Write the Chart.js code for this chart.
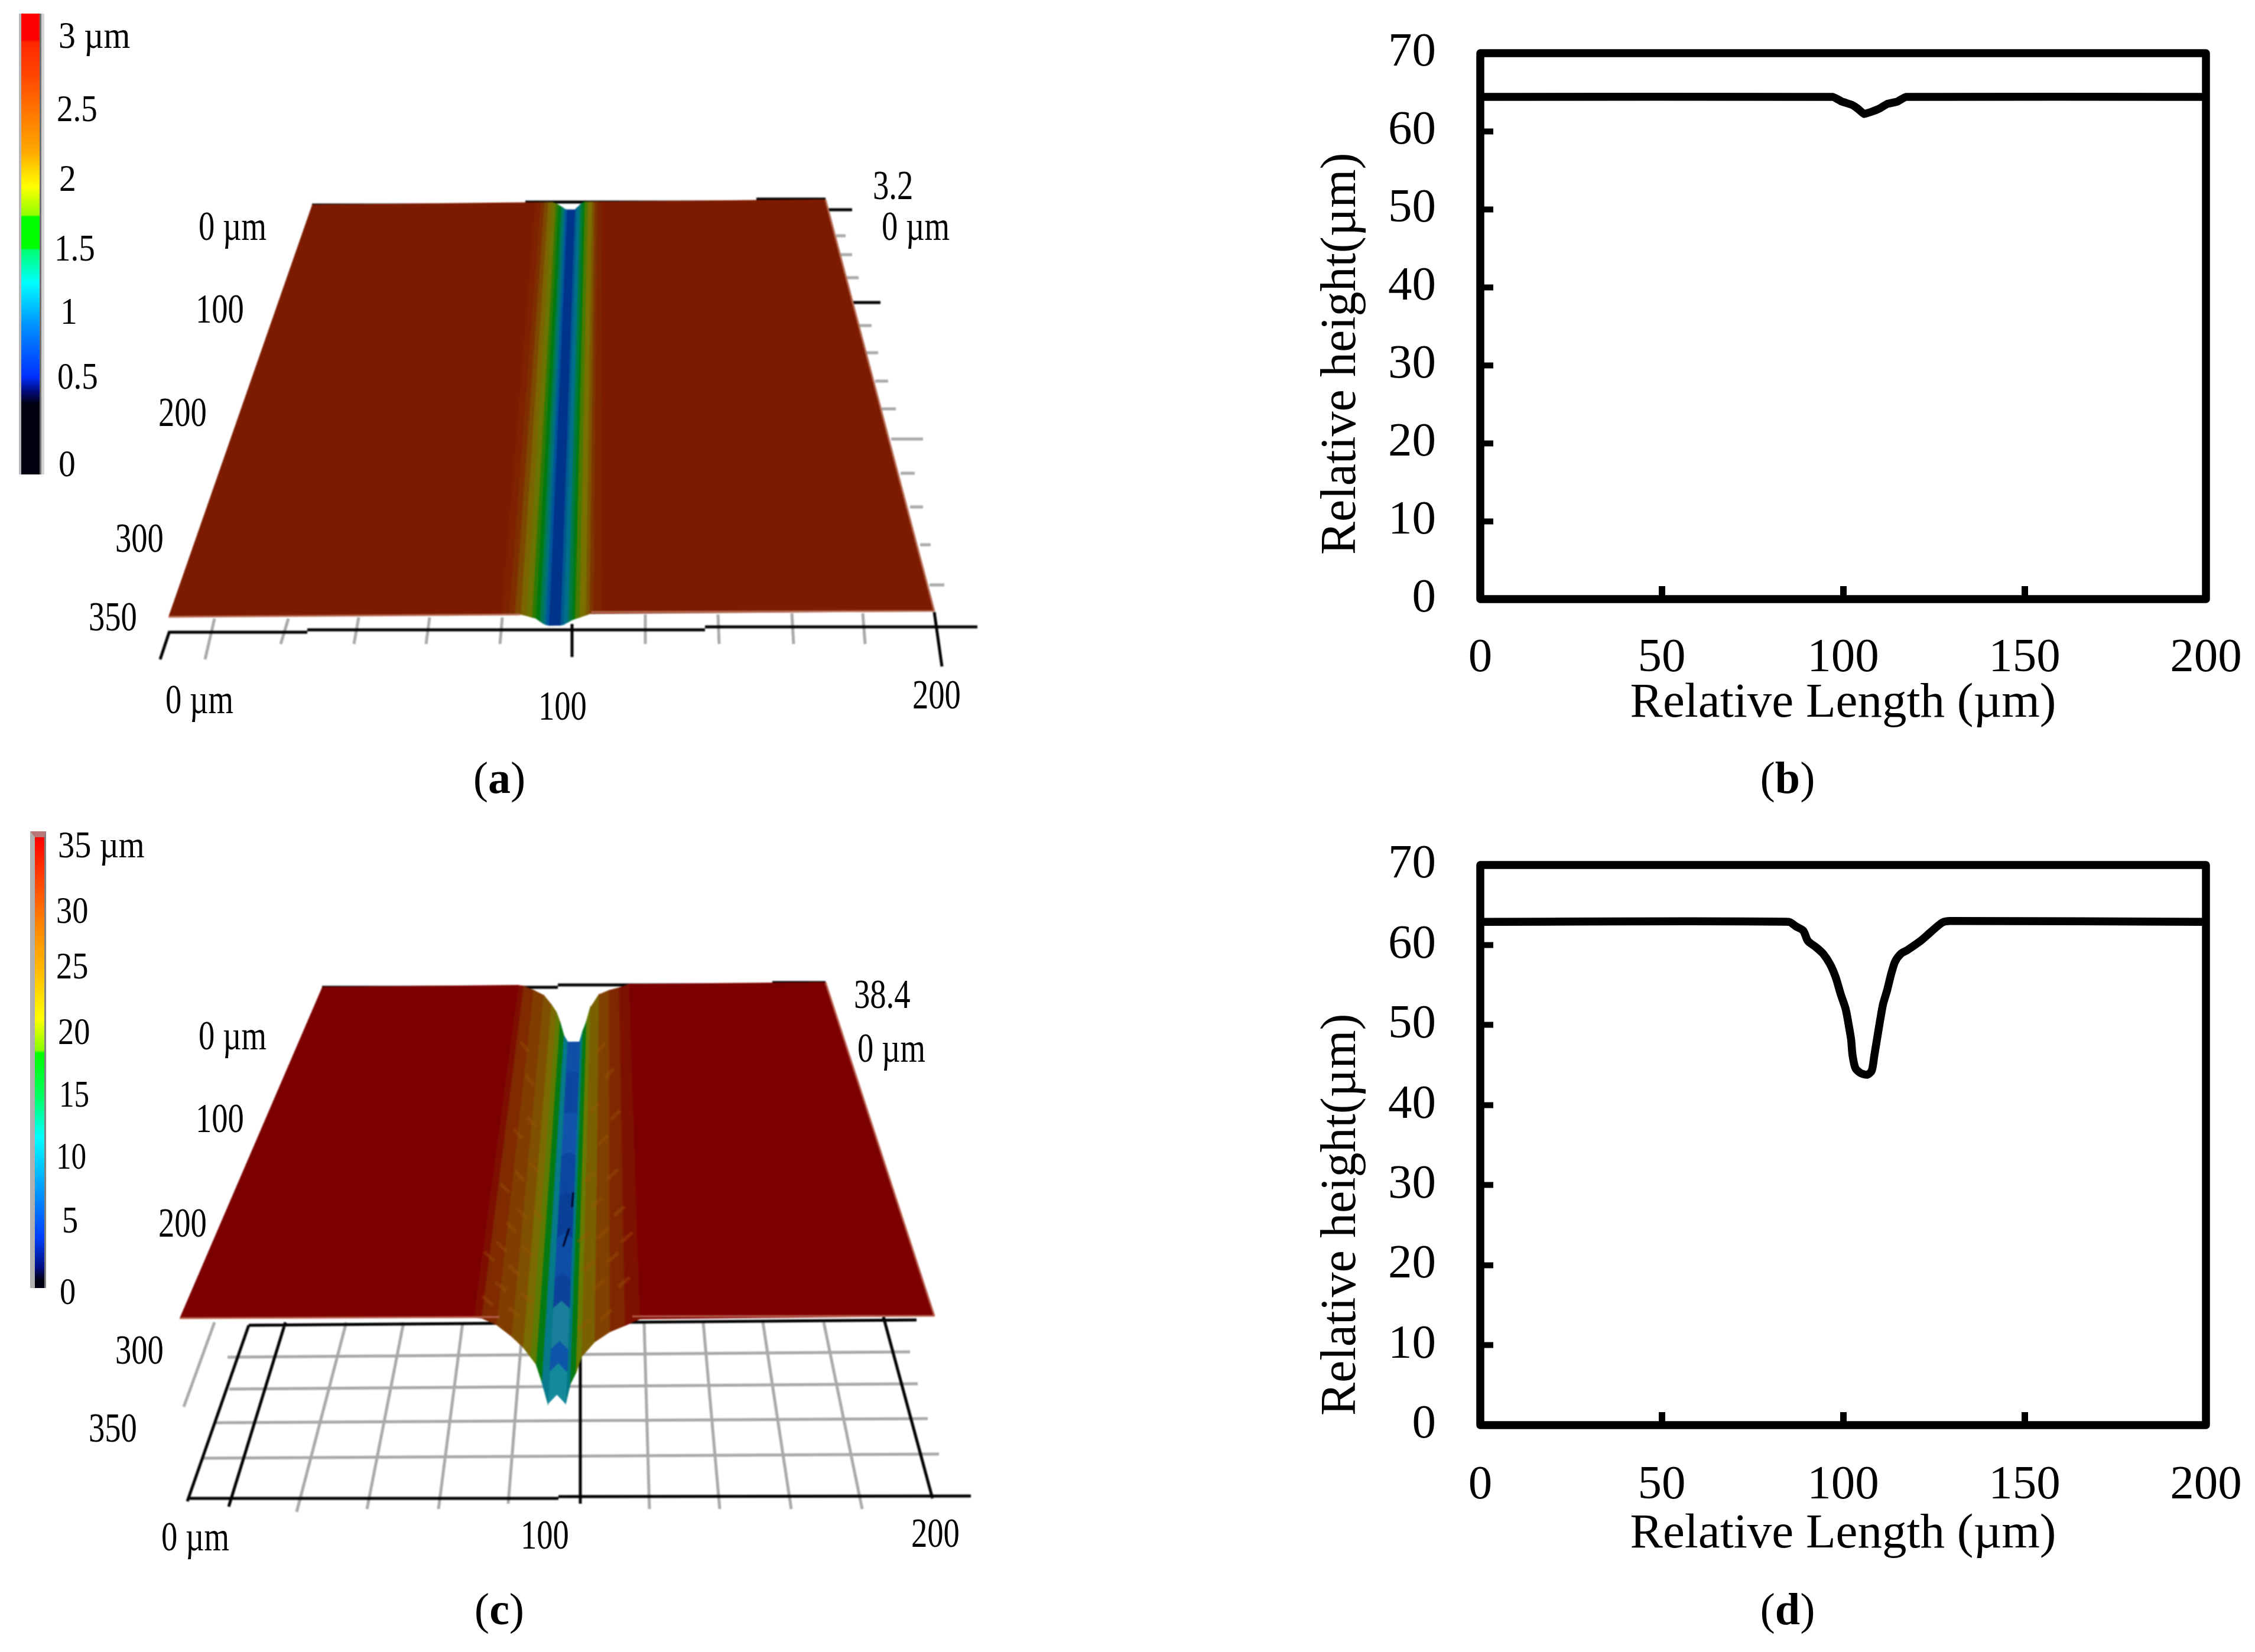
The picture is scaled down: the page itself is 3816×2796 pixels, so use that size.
<!DOCTYPE html>
<html>
<head>
<meta charset="utf-8">
<style>
  html, body { margin: 0; padding: 0; background: #fff; }
  body { position: relative; width: 3816px; height: 2796px; overflow: hidden; }
  canvas { position: absolute; display: block; }
  .lbl { position: absolute; font-family: "Liberation Serif", serif; color: #000; line-height: 1; white-space: pre; transform-origin: 0 0; }
</style>
</head>
<body>
<canvas id="panelA"></canvas>
<canvas id="panelC"></canvas>
<canvas id="barA"></canvas>
<canvas id="barC"></canvas>
<canvas id="chartB"></canvas>
<canvas id="chartD"></canvas>
<script src="https://cdn.jsdelivr.net/npm/chart.js"></script>
<script>
// profile (b)
const bLength = [0, 97.2, 99.6, 102.3, 104, 105.8, 107.9, 110, 112.2, 115, 117.3, 200];
const bHeight = [64.4, 64.4, 63.8, 63.4, 62.9, 62.2, 62.5, 62.9, 63.5, 63.8, 64.4, 64.4];

// profile (d)
const dLength = [0, 85, 87.1, 89, 90.3, 92.6, 94.5, 96.4, 98, 99.3, 100.7, 101.5, 102.2, 102.6, 103.4, 104.8, 106.7, 107.9, 108.6, 109.4, 110.2, 111, 112.1, 113.2, 114.3, 115.9, 117.8, 121.3, 124.1, 127.3, 129.5, 200];
const dHeight = [62.9, 62.9, 62.3, 61.8, 60.5, 59.7, 58.9, 57.6, 55.9, 53.9, 52, 50.1, 48.2, 46.2, 44.6, 44, 43.8, 44.3, 46.2, 48.4, 50.6, 52.6, 54.3, 56.3, 57.9, 58.9, 59.4, 60.5, 61.6, 62.8, 63, 62.9];

const profileXTicks = [0, 50, 100, 150, 200];
const profileYTicks = [0, 10, 20, 30, 40, 50, 60, 70];

// surface (a): band edges across the groove (um), depth at the far and near end (um), colour of the band after each edge
const aEdges = [0, 87, 89, 90.5, 92, 93.5, 95, 96, 97, 97.8, 98.6, 99.4, 102.4, 103.2, 104.4, 105.4, 106.2, 107.4, 109, 110, 111, 113, 200];
const aDepthFar = [0, 0, 0, 0, 0, 0, 0.5, 1.2, 1.8, 2.4, 3, 3.2, 3.2, 2.4, 1.2, 0.3, 0, 0, 0, 0, 0, 0, 0];
const aDepthNear = [0, 0, 0, 0, 0, 0.4, 0.9, 1.2, 2, 2.6, 3, 3.2, 3.2, 3, 2.3, 1.7, 1.4, 1, 0.4, 0, 0, 0, 0];
const aColors = ['#7d1b00', '#7e2200', '#7f2e00', '#7d4800', '#7b6500', '#6b7400', '#2b7a05', '#007a10', '#007a50', '#00707f', '#00559a', '#00338a', '#005a90', '#00708a', '#007a40', '#007a10', '#4a7a00', '#7a7000', '#7c5500', '#7e3500', '#7d2500', '#7d1b00'];

// surface (c)
const cEdges = [0, 78, 80, 84, 88, 91, 93, 94.5, 96, 97.6, 100, 102.3, 103.5, 105, 106.5, 110, 114, 118, 122, 200];
const cDepthFar = [0, 0, 0.5, 3, 6, 11.5, 16, 22, 30, 34, 34, 34, 28, 22, 14, 6, 3.5, 2, 0, 0];
const cDepthNear = [0, 0, 0.3, 3, 7.7, 12, 16, 19, 26, 34.8, 31, 34.8, 27, 22.5, 16, 10, 6, 3.5, 0.8, 0];
const cColors = ['#7d0000', '#7e0e00', '#802a00', '#813d00', '#7e5000', '#7a6a00', '#5f7a00', '#057a12', '#067a8a', '#0f50a8', '#0f50a8', '#007880', '#057a12', '#6a7a00', '#7a6000', '#804000', '#7f2800', '#7e1000', '#7d0000'];

// patches along the floor of the groove in (c), from y um to y um
const cChannelFrom = [0, 30, 70, 110, 150, 190, 230, 258, 298, 320];
const cChannelTo = [30, 70, 110, 150, 190, 230, 258, 298, 320, 350];
const cChannelColors = ['#0f4fa5', '#0c469e', '#1254ac', '#0c46a0', '#0a3f98', '#0e4ea6', '#0c4299', '#1a7f9a', '#0d55a8', '#128a9c'];

// ripple marks on the groove walls in (c)
const cRippleLeftX = [83, 86, 88, 84, 90, 86, 82, 88, 85, 90, 83, 87, 91, 84, 88, 81, 92, 80];
const cRippleLeftY = [60, 90, 130, 150, 170, 190, 210, 225, 245, 255, 270, 285, 300, 310, 325, 330, 210, 285];
const cRippleRightX = [111, 114, 109, 116, 112, 108, 115, 110, 117, 112, 108, 115, 111, 118, 107, 113, 119, 106];
const cRippleRightY = [55, 85, 110, 130, 150, 175, 190, 210, 230, 245, 265, 275, 295, 305, 320, 330, 260, 225];

// colour scales
const aBarValues = [3.2, 3.02, 3.0, 2.78, 2.56, 2.24, 2.0, 1.8, 1.79, 1.57, 1.56, 1.33, 1.03, 0.68, 0.58, 0.49, 0];
const aBarColors = ['#ff0000', '#ff0000', '#ff2800', '#ff4400', '#ff7000', '#ffa800', '#ffff00', '#90ff00', '#00ff00', '#00ff00', '#00ff70', '#00ffff', '#0090ff', '#0030ff', '#000c80', '#000010', '#000010'];
const cBarValues = [37.96, 34.4, 30.9, 26.4, 22.7, 20, 19.8, 16.2, 12.7, 7.8, 4.3, 1.65, 0.77, 0];
const cBarColors = ['#ff0000', '#ff4400', '#ff8000', '#ffc000', '#ffff00', '#88ff00', '#00ff00', '#00ff60', '#00ffff', '#0090ff', '#0040ff', '#000c80', '#000018', '#000010'];

// page positions of the tilted planes
const aPlane = { tl: [528, 347], tr: [1397, 338], bl: [285, 1044], br: [1581, 1034], zFar: 4, zNear: 6 };
const cPlane = { tl: [545, 1671], tr: [1397, 1663], bl: [304, 2231], br: [1581, 2227], zFar: 2.85, zNear: 4.2 };

function place(id, left, top, w, h) {
    const c = document.getElementById(id);
    c.width = w;
    c.height = h;
    c.style.left = left + 'px';
    c.style.top = top + 'px';
    c.style.width = w + 'px';
    c.style.height = h + 'px';
    return c;
}

function addLabel(html, x, baseline, size, sx = 1, centered = false) {
    const d = document.createElement('div');
    d.className = 'lbl';
    d.innerHTML = html;
    d.style.left = x + 'px';
    d.style.top = (baseline - 0.8375 * size) + 'px';
    d.style.fontSize = size + 'px';
    d.style.transform = centered ? 'translateX(-50%)' : `scaleX(${sx})`;
    document.body.appendChild(d);
}

// text reading upwards, starting at yStart, with its baseline on xBase
function addVerticalLabel(text, xBase, yStart, size) {
    const d = document.createElement('div');
    d.className = 'lbl';
    d.textContent = text;
    d.style.left = (xBase - 0.8375 * size) + 'px';
    d.style.top = yStart + 'px';
    d.style.fontSize = size + 'px';
    d.style.transform = 'rotate(-90deg)';
    document.body.appendChild(d);
}

function lerp(a, b, t) {
    return a + (b - a) * t;
}

function project(plane, xUm, yUm, depthFar, depthNear) {
    const t = yUm / 350;
    const u = xUm / 200;
    const x = lerp(lerp(plane.tl[0], plane.bl[0], t), lerp(plane.tr[0], plane.br[0], t), u);
    const y = lerp(lerp(plane.tl[1], plane.bl[1], t), lerp(plane.tr[1], plane.br[1], t), u);
    return { x, y: y + lerp(depthFar * plane.zFar, depthNear * plane.zNear, t) };
}

function lineSet(segments, color, width) {
    const data = [];
    segments.forEach(([x1, y1, x2, y2]) => {
        data.push({ x: x1, y: y1 }, { x: x2, y: y2 }, { x: x2, y: null });
    });
    return { data, showLine: true, spanGaps: false, borderColor: color, borderWidth: width, pointRadius: 0, fill: false, clip: false };
}

function polygonSet(points, color) {
    return {
        data: points,
        showLine: true,
        fill: 'shape',
        backgroundColor: color,
        borderColor: color,
        borderWidth: 1.5,
        pointRadius: 0,
        clip: false
    };
}

function surfaceSets(plane, edges, far, near, colors) {
    return colors.map((color, i) => polygonSet([
        project(plane, edges[i], 0, far[i], near[i]),
        project(plane, edges[i + 1], 0, far[i + 1], near[i + 1]),
        project(plane, edges[i + 1], 350, far[i + 1], near[i + 1]),
        project(plane, edges[i], 350, far[i], near[i])
    ], color));
}

// blue floor of the groove in (c), split in patches along its length
function channelSets(plane, first, last) {
    const sets = [];
    cChannelColors.forEach((color, p) => {
        for (let i = first; i < last; i++) {
            sets.push(polygonSet([
                project(plane, cEdges[i], cChannelFrom[p], cDepthFar[i], cDepthNear[i]),
                project(plane, cEdges[i + 1], cChannelFrom[p], cDepthFar[i + 1], cDepthNear[i + 1]),
                project(plane, cEdges[i + 1], cChannelTo[p], cDepthFar[i + 1], cDepthNear[i + 1]),
                project(plane, cEdges[i], cChannelTo[p], cDepthFar[i], cDepthNear[i])
            ], color));
        }
    });
    return sets;
}

function wallDepth(edges, depth, x) {
    for (let i = 0; i < edges.length - 1; i++) {
        if (x <= edges[i + 1]) return lerp(depth[i], depth[i + 1], (x - edges[i]) / (edges[i + 1] - edges[i]));
    }
    return 0;
}

function rippleSet(plane, xs, ys, slope) {
    const segments = [];
    xs.forEach((x, i) => {
        const far = wallDepth(cEdges, cDepthFar, x);
        const near = wallDepth(cEdges, cDepthNear, x);
        const a = project(plane, x - 1.6, ys[i] - slope * 5, far, near);
        const b = project(plane, x + 1.6, ys[i] + slope * 5, far, near);
        segments.push([a.x, a.y, b.x, b.y]);
    });
    return lineSet(segments, 'rgba(160,88,10,0.35)', 6);
}

function makeSurface(id, top, h, under, over) {
    const canvas = place(id, 0, top, 1720, h);
    canvas.style.filter = 'blur(1.3px)';
    // first dataset is painted last, so flip the paint order list
    const datasets = [...under, ...over].reverse();
    new Chart(canvas, {
        type: 'scatter',
        data: { datasets },
        options: {
            responsive: false,
            animation: false,
            devicePixelRatio: 1,
            layout: { padding: 0 },
            plugins: { legend: { display: false }, tooltip: { enabled: false } },
            scales: {
                x: { type: 'linear', display: false, min: 0, max: 1720 },
                y: { type: 'linear', display: false, min: top, max: top + h, reverse: true }
            }
        }
    });
}

function makeColorbar(id, left, top, w, h, values, colors, css) {
    const canvas = place(id, left, top, w, h);
    Object.assign(canvas.style, css);
    const maxValue = values[0];
    new Chart(canvas, {
        type: 'bar',
        data: {
            labels: [''],
            datasets: [{
                data: [[0, maxValue]],
                barPercentage: 1,
                categoryPercentage: 1,
                backgroundColor: (ctx) => {
                    const area = ctx.chart.chartArea;
                    if (!area) return colors[0];
                    const g = ctx.chart.ctx.createLinearGradient(0, area.bottom, 0, area.top);
                    values.forEach((v, i) => g.addColorStop(v / maxValue, colors[i]));
                    return g;
                }
            }]
        },
        options: {
            responsive: false,
            animation: false,
            devicePixelRatio: 1,
            plugins: { legend: { display: false }, tooltip: { enabled: false } },
            scales: {
                x: { display: false },
                y: { display: false, min: 0, max: maxValue }
            }
        }
    });
}

const framePlugin = {
    id: 'frame',
    afterDraw(chart) {
        const { ctx, chartArea: a } = chart;
        ctx.save();
        ctx.strokeStyle = '#000';
        ctx.lineWidth = 13.5;
        ctx.lineJoin = 'round';
        ctx.strokeRect(a.left, a.top, a.right - a.left, a.bottom - a.top);
        ctx.restore();
    }
};

function makeProfile(id, top, plotTop, plotBottom, lengths, heights, tension, tickPad, titlePad) {
    const canvasH = plotBottom - top + 286;
    const canvas = place(id, 2190, top, 1626, canvasH);
    new Chart(canvas, {
        type: 'scatter',
        data: {
            datasets: [{
                data: lengths.map((x, i) => ({ x, y: heights[i] })),
                showLine: true,
                borderColor: '#000',
                borderWidth: 13.5,
                borderJoinStyle: 'round',
                tension,
                pointRadius: 0
            }]
        },
        plugins: [framePlugin],
        options: {
            responsive: false,
            animation: false,
            devicePixelRatio: 1,
            layout: { padding: { left: 0, right: 83, top: plotTop - top, bottom: 0 } },
            plugins: { legend: { display: false }, tooltip: { enabled: false } },
            scales: {
                x: {
                    type: 'linear',
                    min: 0,
                    max: 200,
                    afterBuildTicks: (s) => { s.ticks = profileXTicks.map((value) => ({ value })); },
                    afterFit: (s) => { s.height = 286; s.paddingLeft = 0; s.paddingRight = 0; },
                    border: { display: false },
                    grid: { drawOnChartArea: false, drawTicks: true, tickLength: -22, tickWidth: 11, color: '#000' },
                    ticks: { color: '#000', font: { family: 'Liberation Serif', size: 81 }, padding: tickPad, maxRotation: 0, autoSkip: false },
                    title: { display: true, text: 'Relative Length (µm)', color: '#000', font: { family: 'Liberation Serif', size: 83 }, padding: { top: 0, bottom: titlePad } }
                },
                y: {
                    type: 'linear',
                    min: 0,
                    max: 70,
                    afterBuildTicks: (s) => { s.ticks = profileYTicks.map((value) => ({ value })); },
                    afterFit: (s) => { s.width = 315; s.paddingTop = 0; s.paddingBottom = 0; },
                    border: { display: false },
                    grid: { drawOnChartArea: false, drawTicks: true, tickLength: -22, tickWidth: 10, color: '#000' },
                    ticks: { color: '#000', font: { family: 'Liberation Serif', size: 81 }, padding: 97, autoSkip: false }
                }
            }
        }
    });
}

// panel (a): frame lines around the plane
const aDark = [[528, 347, 889, 347], [889, 342, 1280, 342], [1280, 337, 1397, 337], [287, 1070, 520, 1070], [520, 1066, 1193, 1066], [1193, 1061, 1654, 1061], [287, 1068, 271, 1116], [1581, 1036, 1594, 1128], [968, 1056, 968, 1112], [1397, 355, 1442, 355], [1442, 512, 1490, 512]];
const aGrayTicks = [[363, 1047, 347, 1116], [488, 1047, 475, 1090], [607, 1045, 599, 1090], [727, 1045, 721, 1090], [850, 1045, 846, 1090], [1092, 1040, 1092, 1090], [1215, 1040, 1217, 1090], [1340, 1038, 1343, 1090], [1460, 1038, 1464, 1090], [1415, 399, 1431, 399], [1420, 431, 1442, 431], [1431, 470, 1453, 470], [1453, 551, 1475, 551], [1464, 597, 1486, 597], [1481, 645, 1503, 645], [1492, 692, 1516, 692], [1508, 743, 1562, 743], [1524, 801, 1548, 801], [1540, 858, 1562, 858], [1557, 922, 1575, 922], [1573, 990, 1598, 990]];
const aFringe = [[285, 1044, 880, 1040], [1000, 1036, 1581, 1034], [1397, 338, 1581, 1034]];

// panel (c): floor grid under the plane
const cDark = [[545, 1671, 944, 1671], [944, 1667, 1307, 1667], [1307, 1663, 1397, 1663], [421, 2243, 1551, 2234], [317, 2536, 945, 2536], [945, 2533, 1643, 2532], [421, 2243, 317, 2541], [483, 2238, 387, 2550], [982, 2247, 982, 2545], [1495, 2229, 1578, 2536]];
const cGray = [[385, 2297, 1540, 2288], [388, 2351, 1553, 2342], [363, 2408, 1570, 2401], [342, 2468, 1589, 2461], [363, 2238, 311, 2381], [586, 2238, 502, 2559], [683, 2238, 621, 2554], [783, 2238, 742, 2554], [884, 2247, 860, 2545], [1090, 2238, 1099, 2554], [1190, 2238, 1218, 2554], [1291, 2238, 1339, 2554], [1394, 2238, 1459, 2554]];
const cFringe = [[304, 2231, 845, 2229], [1070, 2228, 1581, 2227], [1397, 1663, 1581, 2227]];
const cSpecks = [[953, 2110, 963, 2079], [970, 2018, 968, 2043]];

makeSurface('panelA', 0, 1380,
    [lineSet(aGrayTicks, '#a8a8a8', 5), lineSet(aDark, '#000000', 5)],
    [...surfaceSets(aPlane, aEdges, aDepthFar, aDepthNear, aColors), lineSet(aFringe, '#b8705a', 3)]);

makeSurface('panelC', 1380, 1416,
    [lineSet(cGray, '#a8a8a8', 5), lineSet(cDark, '#000000', 5)],
    [...surfaceSets(cPlane, cEdges, cDepthFar, cDepthNear, cColors),
     ...channelSets(cPlane, 9, 11),
     rippleSet(cPlane, cRippleLeftX, cRippleLeftY, 1),
     rippleSet(cPlane, cRippleRightX, cRippleRightY, -1),
     lineSet(cSpecks, '#000020', 3),
     lineSet(cFringe, '#b8604f', 3)]);

makeColorbar('barA', 36, 23, 38, 780, aBarValues, aBarColors, {
    borderLeft: '4px solid #b8b8b8', borderRight: '3px solid #707070', boxShadow: '5px 0 0 #d4d4d4', marginLeft: '-4px'
});
makeColorbar('barC', 59, 1417, 27, 773, cBarValues, cBarColors, {
    borderLeft: '8px solid #b0b0b0', borderRight: '3px solid #808080', borderTop: '10px solid #b87878', marginLeft: '-8px', marginTop: '-10px'
});

makeProfile('chartB', 0, 90, 1014, bLength, bHeight, 0.1, 74, 59);
makeProfile('chartD', 1380, 1464, 2412, dLength, dHeight, 0.25, 76, 51);

addVerticalLabel('Relative height(µm)', 2293, 939, 84);
addVerticalLabel('Relative height(µm)', 2293, 2396, 84);

// colour scale labels
[['3 µm', 99, 82, 0.9], ['2.5', 96, 206, 0.86], ['2', 100, 324, 0.9], ['1.5', 92, 442, 0.86], ['1', 102, 549, 0.9], ['0.5', 97, 659, 0.86], ['0', 99, 807, 0.9],
 ['35 µm', 98, 1452, 0.88], ['30', 95, 1563, 0.85], ['25', 95, 1657, 0.85], ['20', 98, 1768, 0.85], ['15', 100, 1874, 0.8], ['10', 95, 1979, 0.8], ['5', 105, 2087, 0.85], ['0', 101, 2208, 0.85]
].forEach(([t, x, y, sx]) => addLabel(t, x, y, 64, sx));

// axis labels of the two surfaces
[['0 µm', 336, 407], ['100', 331, 547], ['200', 268, 722], ['300', 195, 935], ['350', 150, 1068], ['3.2', 1477, 338], ['0 µm', 1492, 407], ['0 µm', 280, 1208], ['100', 911, 1219], ['200', 1544, 1200],
 ['0 µm', 336, 1777], ['100', 331, 1917], ['200', 268, 2094], ['38.4', 1445, 1707], ['0 µm', 1451, 1798], ['300', 195, 2309], ['350', 150, 2441], ['0 µm', 273, 2625], ['100', 881, 2622], ['200', 1542, 2619]
].forEach(([t, x, y]) => addLabel(t, x, y, 70, 0.78));

// captions
[['a', 845, 1342], ['b', 3025, 1342], ['c', 845, 2749], ['d', 3025, 2749]]
    .forEach(([t, x, y]) => addLabel(`(<b>${t}</b>)`, x, y, 76, 1, true));
</script>
</body>
</html>
